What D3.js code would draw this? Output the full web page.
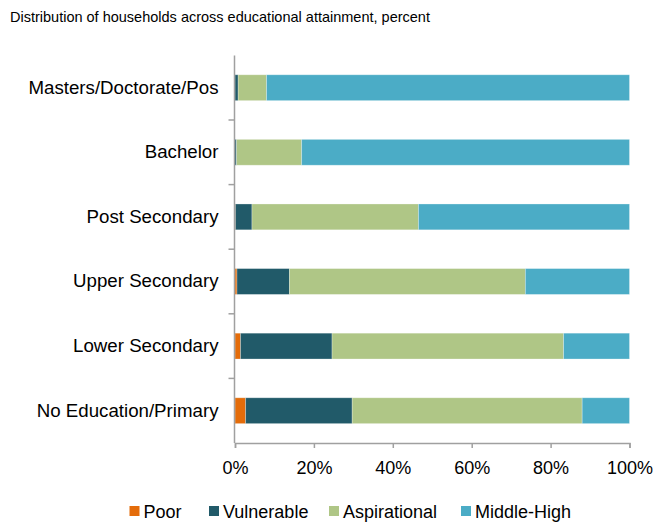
<!DOCTYPE html>
<html><head><meta charset="utf-8">
<script src="https://cdn.jsdelivr.net/npm/d3@7"></script>
<style>body{margin:0;background:#fff}svg{display:block;font-family:"Liberation Sans",Arial,sans-serif}</style>
</head><body>
<svg id="c" width="668" height="522"></svg>
<script>
const categories = ["Masters/Doctorate/Pos","Bachelor","Post Secondary","Upper Secondary","Lower Secondary","No Education/Primary"];
const seriesNames = ["Poor","Vulnerable","Aspirational","Middle-High"];
const poor = [0, 0, 0.1, 0.5, 1.4, 2.7];
const vulnerable = [0.8, 0.4, 4.2, 13.3, 23.2, 27.0];
const aspirational = [7.2, 16.5, 42.2, 59.8, 58.7, 58.3];
const middleHigh = [92.0, 83.1, 53.5, 26.4, 16.7, 12.0];
const xTicks = [0, 20, 40, 60, 80, 100];
const colors = ["#E46C0A", "#215A69", "#AFC686", "#4BACC6"];
const title = "Distribution of households across educational attainment, percent";

const rows = categories.map((c, i) => ({cat: c, Poor: poor[i], Vulnerable: vulnerable[i], Aspirational: aspirational[i], "Middle-High": middleHigh[i]}));
const stacked = d3.stack().keys(seriesNames)(rows);

const svg = d3.select("#c");
const x = d3.scaleLinear().domain([0, 100]).range([235, 629.5]);
const y = d3.scaleBand().domain(categories).range([55.4, 443]).paddingInner(0.6).paddingOuter(0.3);
const color = d3.scaleOrdinal().domain(seriesNames).range(colors);
const FONT = "Liberation Sans, Arial, sans-serif";

svg.append("text").attr("x", 10).attr("y", 22).attr("font-size", 14.5).attr("fill", "#000").text(title);

svg.append("g").selectAll("g").data(stacked).join("g")
  .attr("fill", d => color(d.key))
  .selectAll("rect").data(d => d).join("rect")
  .attr("x", d => x(d[0]))
  .attr("y", d => y(d.data.cat))
  .attr("width", d => Math.max(0, x(d[1]) - x(d[0])))
  .attr("height", y.bandwidth())
  .attr("stroke", "#ffffff").attr("stroke-opacity", 0.35).attr("stroke-width", 0.8);

// axes
const axisColor = "#a0a0a0";
const xAxis = svg.append("g").attr("transform", "translate(0,443)")
  .call(d3.axisBottom(x).tickValues(xTicks).tickFormat(d => d + "%").tickSize(5).tickPadding(13));
xAxis.select(".domain").attr("stroke", axisColor).attr("stroke-width", 1.5);
xAxis.selectAll(".tick line").attr("stroke", axisColor).attr("stroke-width", 1.5);
xAxis.selectAll("text").attr("font-size", 18).attr("fill", "#000").attr("font-family", FONT);

const yAxis = svg.append("g").attr("transform", "translate(234.5,0)")
  .call(d3.axisLeft(y).tickSize(0).tickPadding(16));
yAxis.select(".domain").attr("d", `M0,${y.range()[0]}V${y.range()[1]}`).attr("stroke", axisColor).attr("stroke-width", 1.5);
yAxis.selectAll("text").attr("font-size", 18.7).attr("fill", "#000").attr("font-family", FONT);
// boundary ticks between categories
const bounds = categories.slice(1).map(c => y(c) - y.step() * y.paddingInner() / 2);
yAxis.selectAll(".btick").data(bounds).join("line").attr("class", "btick")
  .attr("x1", -6).attr("x2", 0).attr("y1", d => d).attr("y2", d => d)
  .attr("stroke", axisColor).attr("stroke-width", 1.5);

// legend
const legendX = [129.5, 209, 329, 461];
const lg = svg.append("g").selectAll("g").data(seriesNames).join("g")
  .attr("transform", (d, i) => `translate(${legendX[i]},506)`);
lg.append("rect").attr("width", 10).attr("height", 10).attr("fill", d => color(d));
lg.append("text").attr("x", 14).attr("y", 11.5).attr("font-size", 18).attr("fill", "#000").text(d => d);
</script>
</body></html>
